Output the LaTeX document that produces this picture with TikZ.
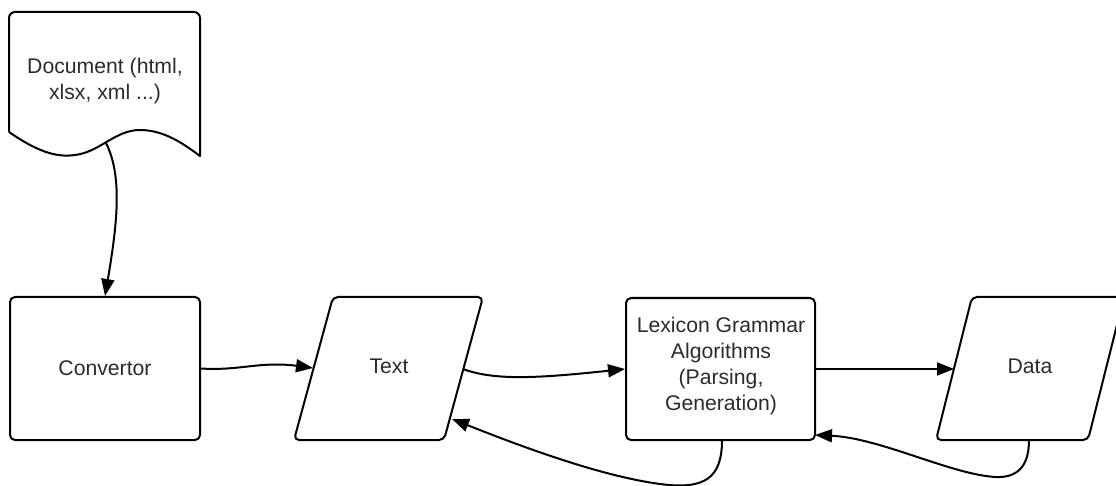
\documentclass[tikz,border=0pt]{standalone}
\usepackage{fontspec}
\setmainfont{Liberation Sans}
\usetikzlibrary{arrows.meta}
\definecolor{txt}{HTML}{2B2B2B}
\tikzset{
  shp/.style={draw=black, line width=2pt, line join=round},
  boxnode/.style={shp, rounded corners=5pt, inner sep=0pt},
  lbl/.style={text=txt, align=center, font=\fontsize{21.2}{25.8}\selectfont, inner sep=0pt},
  conn/.style={draw=black, line width=2pt, -{Triangle[length=17pt,width=13pt]}},
}
\begin{document}
\begin{tikzpicture}[x=1pt,y=-1pt]
\useasboundingbox (0,0) rectangle (1116,486);
\clip (0,0) rectangle (1116,486);
% document shape
\draw[shp] (9,132) -- (9,18) arc[start angle=180, end angle=270, radius=6]
  -- (194,12) arc[start angle=270, end angle=360, radius=6] -- (200,156)
  .. controls (185,145) and (165,130) .. (140,130)
  .. controls (115,130) and (100,152) .. (75,155)
  .. controls (55,158) and (35,150) .. (9,132);
\node[lbl] (doc) at (105,81) {Document (html,\\xlsx, xml ...)};
\coordinate (docB) at (106,143);
% convertor
\node[boxnode, lbl, draw=black, minimum width=190pt, minimum height=143pt] (conv) at (105,368.5) {Convertor};
% text parallelogram
\draw[shp, rounded corners=5pt] (333,297) -- (483,297) -- (444,440) -- (294,440) -- cycle;
\node[lbl] (text) at (389,366) {Text};
\coordinate (textL) at (313,368);
\coordinate (textR) at (463,369);
\coordinate (textRlow) at (452,419);
% lexicon
\node[boxnode, draw=black, minimum width=189pt, minimum height=142pt] (lex) at (720.5,369) {};
\node[lbl] (lext) at (721,366) {Lexicon Grammar\\Algorithms\\(Parsing,\\Generation)};
\coordinate (lexB) at (722,440);
\coordinate (lexR) at (815,435);
% data parallelogram
\draw[shp, rounded corners=5pt] (972,297) -- (1124,297) -- (1088,440) -- (936,440) -- cycle;
\node[lbl] (data) at (1030,366) {Data};
\coordinate (dataL) at (954,369);
\coordinate (dataB) at (1029,440);
% connectors
\draw[conn] (docB) .. controls (122,175) and (118,220) .. (conv.north);
\draw[conn] (conv.east) .. controls (240,371) and (260,361) .. (textL);
\draw[conn] (textR) .. controls (495,381) and (540,378) .. (lex.west);
\draw[conn] (lex.east) -- (dataL);
\draw[conn] (dataB) .. controls (1029,468) and (1016,478) .. (995,477)
  .. controls (950,474) and (880,438) .. (lexR);
\draw[conn] (lexB) .. controls (722,478) and (705,490) .. (660,484)
  .. controls (600,476) and (520,446) .. (textRlow);
\end{tikzpicture}
\end{document}
